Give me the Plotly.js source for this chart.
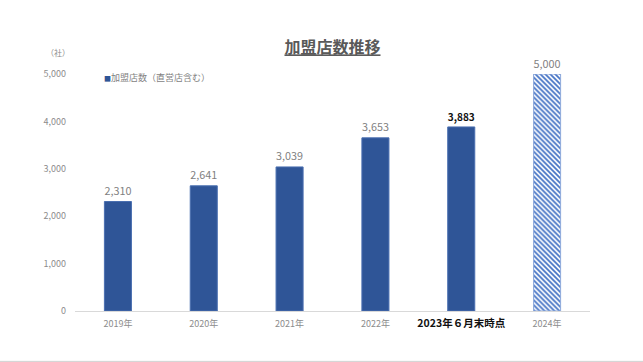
<!DOCTYPE html>
<html>
<head>
<meta charset="utf-8">
<script src="https://cdn.plot.ly/plotly-3.0.1.min.js"></script>
<style>
html,body{margin:0;padding:0;background:#fff;}
#chart{width:643px;height:362px;}
</style>
</head>
<body>
<div id="chart"></div>
<script>
const categories = ["2019年", "2020年", "2021年", "2022年", "2023年６月末時点", "2024年"];
const values = [2310, 2641, 3039, 3653, 3883, 5000];
const valueLabels = ["2,310", "2,641", "3,039", "3,653", "<b>3,883</b>", "5,000"];
const tickValues = [0, 1000, 2000, 3000, 4000, 5000];
const tickLabels = ["0", "1,000", "2,000", "3,000", "4,000", "5,000"];
const seriesName = "加盟店数（直営店含む）";
const chartTitle = "加盟店数推移";
const unitLabel = "（社）";

const FONT = "Noto Sans CJK JP, Noto Sans, sans-serif";
const tickText = categories.map((c, i) =>
  i === 4 ? '<span style="font-size:10.5px;color:#111111;font-weight:bold">' + c + '</span>' : c);

const trace = {
  type: "bar",
  x: categories,
  y: values,
  text: valueLabels,
  textposition: "outside",
  cliponaxis: false,
  textfont: {
    family: FONT,
    size: values.map((v, i) => i === 4 ? 14 : 12.5),
    color: values.map((v, i) => i === 4 ? "#111111" : "#7f7f7f")
  },
  marker: {
    color: values.map((v, i) => i === 5 ? "#4472C4" : "#2F5597"),
    line: { color: values.map((v, i) => i === 5 ? "#8FAADC" : "#4A6FB0"), width: 1 },
    pattern: {
      shape: values.map((v, i) => i === 5 ? "\\" : ""),
      size: 3.5,
      solidity: 0.5,
      fillmode: "replace"
    }
  },
  hoverinfo: "skip",
  showlegend: false,
  name: seriesName
};

const layout = {
  width: 643,
  height: 362,
  margin: { l: 75, r: 53, t: 74, b: 51 },
  paper_bgcolor: "#ffffff",
  plot_bgcolor: "#ffffff",
  bargap: 0.685,
  font: { family: FONT, color: "#7f7f7f", size: 9 },
  title: {
    text: chartTitle,
    x: 0.5,
    xanchor: "center",
    y: 0.868,
    yanchor: "middle",
    xref: "paper",
    font: { family: FONT, size: 16, color: "#595959", weight: "bold", lineposition: "under" }
  },
  xaxis: {
    type: "category",
    range: [-0.5, 5.5],
    tickmode: "array",
    tickvals: categories,
    ticktext: tickText,
    showgrid: false,
    zeroline: false,
    showline: true,
    linecolor: "#D9D9D9",
    linewidth: 1,
    ticks: "",
    ticklabelstandoff: 4,
    tickfont: { family: FONT, size: 9, color: "#8c8c8c" },
    fixedrange: true
  },
  yaxis: {
    range: [0, 5000],
    tickmode: "array",
    tickvals: tickValues,
    ticktext: tickLabels,
    showgrid: false,
    zeroline: false,
    showline: false,
    ticks: "",
    ticklabelstandoff: 8,
    tickfont: { family: FONT, size: 9, color: "#8c8c8c" },
    fixedrange: true
  },
  annotations: [
    {
      text: unitLabel,
      xref: "paper", yref: "paper",
      x: -0.033, y: 1.09,
      xanchor: "center", yanchor: "middle",
      showarrow: false,
      font: { family: FONT, size: 8, color: "#8c8c8c" }
    },
    {
      text: '<span style="color:#2F5597;font-size:7px">■</span>' + seriesName,
      xref: "paper", yref: "paper",
      x: 0.052, y: 0.985,
      xanchor: "left", yanchor: "middle",
      showarrow: false,
      font: { family: FONT, size: 9, color: "#7f7f7f" }
    }
  ],
  shapes: [
    { type: "line", xref: "paper", yref: "paper", x0: -0.2, x1: 1.2, y0: -0.2125, y1: -0.2125,
      line: { color: "#D0D0D0", width: 1 } }
  ]
};

Plotly.newPlot("chart", [trace], layout, { displayModeBar: false, staticPlot: true });
</script>
</body>
</html>
